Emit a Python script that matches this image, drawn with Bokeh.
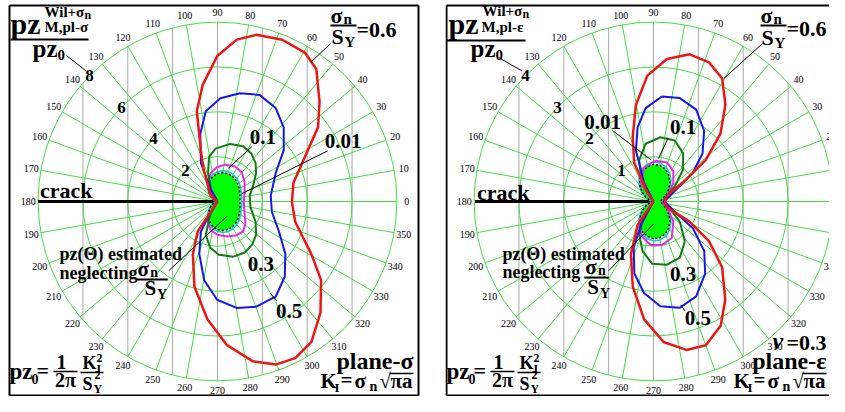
import numpy as np
from bokeh.plotting import figure
from bokeh.layouts import row
from bokeh.models import Range1d
from bokeh.embed import file_html
from bokeh.resources import INLINE
from bokeh.core.properties import value

FONT = "Liberation Serif"

# ---------------- data ----------------
angle_ticks = list(range(0, 360, 10))
radial_ticks_stress = [2, 4, 6, 8]
radial_ticks_strain = [1, 2, 3, 4]
vgrid_stress = [-6, -4, -2, 0, 2, 4, 6]
vgrid_strain = [-3, -2, -1, 0, 1, 2, 3]

base_theta = list(range(-180, 181, 10))

# plane stress (left), r / pz0
stress_base_r = [0, 0.03, 0.12, 0.26, 0.43, 0.62, 0.81, 0.99, 1.14, 1.25, 1.31, 1.33, 1.31, 1.26, 1.19, 1.12, 1.06, 1.02, 1.0,
                 1.02, 1.06, 1.12, 1.19, 1.26, 1.31, 1.33, 1.31, 1.25, 1.14, 0.99, 0.81, 0.62, 0.43, 0.26, 0.12, 0.03, 0]
stress_001_r = [0, 0.04, 0.13, 0.28, 0.46, 0.66, 0.86, 1.05, 1.21, 1.33, 1.40, 1.42, 1.40, 1.34, 1.27, 1.19, 1.13, 1.09, 1.08,
                1.09, 1.13, 1.19, 1.27, 1.34, 1.40, 1.42, 1.40, 1.33, 1.21, 1.05, 0.86, 0.66, 0.46, 0.28, 0.13, 0.04, 0]
stress_01_theta = [180, 125, 116.7, 103.4, 90.5, 78, 63.4, 50.5, 37.2, 18.4, -1.5, -24, -37.9, -49.4, -60.4, -74.9,
                   -90.5, -103.6, -115.1, -125, 180]
stress_01_r = [0, 0.5, 0.94, 1.31, 1.54, 1.68, 1.75, 1.69, 1.51, 1.28, 1.17, 1.32, 1.58, 1.76, 1.73, 1.62,
               1.48, 1.30, 1.0, 0.5, 0]
stress_03_theta = [180, 118, 108.3, 100.7, 92.1, 77.6, 65.1, 54.9, 45.2, 36.4, 25.5, 10.3, -9.6, -27.9, -40.6, -50.9,
                   -61.8, -73.9, -88.6, -99.2, -109.4, -118.8, 180]
stress_03_r = [0, 0.6, 1.34, 2.03, 2.36, 2.63, 2.72, 2.62, 2.41, 2.14, 1.78, 1.46, 1.49, 1.92, 2.27, 2.46,
               2.58, 2.56, 2.38, 2.08, 1.57, 0.70, 0]
stress_05_theta = [180, 118.9, 113.4, 104.3, 97.4, 88.4, 78.3, 68.5, 58.1, 48.2, 37.8, 26.1, 6.3, -10.9, -26, -37.8,
                   -48.2, -58.5, -69.8, -79.8, -90.2, -99.6, -109.1, -118.9, -121.9, 180]
stress_05_r = [0, 0.63, 1.86, 3.11, 4.06, 4.61, 4.93, 5.11, 4.91, 4.43, 3.74, 2.89, 2.39, 2.47, 3.05, 3.83,
               4.50, 4.97, 5.00, 4.82, 4.38, 3.56, 2.48, 1.53, 0.72, 0]
stress_06_theta = [180, 139, 113.6, 108, 102.9, 97.3, 90.1, 83.2, 76.9, 68.2, 59.6, 53.3, 44.4, 36.4, 27.1, 13.9, -0.5,
                   -14.6, -29.3, -37.2, -47.2, -56.2, -63.6, -70.4, -77.5, -86.2, -94.9, -105.2, -115.1, -123.5, -123, 180]
stress_06_r = [0, 0.40, 1.55, 2.41, 4.13, 5.23, 6.49, 7.27, 7.63, 7.77, 7.70, 7.37, 6.37, 5.57, 4.38, 3.49, 3.32,
               3.58, 4.80, 5.80, 6.76, 7.53, 7.80, 7.72, 7.30, 6.42, 5.27, 3.93, 2.59, 1.60, 0.56, 0]

# plane strain (right), nu = 0.3
strain_base_r = [0, 0.02, 0.09, 0.20, 0.33, 0.47, 0.60, 0.72, 0.79, 0.83, 0.82, 0.77, 0.68, 0.57, 0.45, 0.34, 0.24, 0.18, 0.16,
                 0.18, 0.24, 0.34, 0.45, 0.57, 0.68, 0.77, 0.82, 0.83, 0.79, 0.72, 0.60, 0.47, 0.33, 0.20, 0.09, 0.02, 0]
strain_001_r = [0, 0.02, 0.10, 0.21, 0.35, 0.50, 0.64, 0.76, 0.84, 0.88, 0.87, 0.82, 0.72, 0.60, 0.48, 0.36, 0.25, 0.19, 0.17,
                0.19, 0.25, 0.36, 0.48, 0.60, 0.72, 0.82, 0.87, 0.88, 0.84, 0.76, 0.64, 0.50, 0.35, 0.21, 0.10, 0.02, 0]
strain_01_theta = [180, 124, 105.8, 87.3, 71.1, 56.8, 43.5, 26.7, 0, -30.5, -45.6, -63.4, -79, -93.8, -109, -125.4, 180]
strain_01_r = [0, 0.51, 0.78, 0.91, 0.92, 0.81, 0.61, 0.37, 0.20, 0.39, 0.63, 0.91, 0.99, 0.97, 0.82, 0.55, 0]
strain_03_theta = [180, 125, 116.6, 109, 97.7, 83.9, 70.7, 58.4, 47.2, 36, 23.7, 0, -23.3, -37.5, -51.8, -64.8, -78,
                   -91.2, -102.6, -113.4, -124.7, 180]
strain_03_r = [0, 0.30, 0.63, 0.98, 1.30, 1.44, 1.44, 1.26, 0.97, 0.59, 0.33, 0.22, 0.40, 0.74, 1.13, 1.38, 1.44,
               1.39, 1.13, 0.80, 0.37, 0]
strain_05_theta = [180, 116.7, 108.9, 102.1, 94.8, 85.4, 75.7, 65.1, 54.4, 44.4, 36, 28.2, 0, -27.4, -34.1, -44.3,
                   -54.4, -65.8, -76.1, -86.3, -95.9, -104.9, -113.2, -118.4, 180]
strain_05_r = [0, 0.47, 1.21, 1.69, 2.09, 2.35, 2.38, 2.26, 1.94, 1.53, 1.08, 0.58, 0.24, 0.58, 1.06, 1.58,
               1.98, 2.32, 2.44, 2.34, 2.05, 1.66, 1.12, 0.59, 0]
strain_06_theta = [180, 124, 116.6, 107.9, 100.3, 92.8, 84.6, 76.2, 68.2, 60.8, 53.4, 45.3, 38.5, 34, 23.7, 0, -22.6,
                   -29.2, -35.5, -43.8, -53.8, -61.6, -70, -77.5, -85.9, -94.6, -103.7, -113.1, -124.2, -122.8, 180]
strain_06_r = [0, 0.24, 0.96, 1.51, 2.19, 2.81, 3.19, 3.38, 3.34, 3.14, 2.69, 2.12, 1.49, 0.88, 0.33, 0.25, 0.32,
               0.92, 1.52, 2.12, 2.71, 3.15, 3.41, 3.39, 3.14, 2.63, 1.95, 1.28, 0.63, 0.19, 0]

# ---------------- styling / geometry ----------------
GRID_GREEN = "#44dd44"
GRID_GRAY = "#a8a8a8"
COL = {"0.1": "#ee22ee", "0.3": "#117a11", "0.5": "#1515ee", "0.6": "#ee1515", "0.01": "#10c8d0"}
FIG_H = 396
K = 0.975      # overall shrink so that the page fits the window
CY = 201       # pole height on the canvas


def pol(theta_deg, r):
    t = np.radians(np.asarray(theta_deg, dtype=float))
    r = np.asarray(r, dtype=float)
    return r * np.cos(t), r * np.sin(t)


def make_fig(cx, s, left_px, width):
    ppu = s * K
    p = figure(width=width, height=FIG_H, output_backend="svg", toolbar_location=None,
               x_axis_location=None, y_axis_location=None, min_border=0,
               x_range=Range1d((left_px - cx) / ppu, (left_px + width - cx) / ppu),
               y_range=Range1d((CY - FIG_H) / ppu, CY / ppu))
    p.grid.visible = False
    p.outline_line_color = None
    p.background_fill_color = "white"
    p.border_fill_color = "white"

    def ref(xp, yp):      # position read on the reference, scaled with the polar plot
        return (xp - cx) / s, (206 - yp) / s

    def pic(xp, yp):      # position on the canvas itself
        return (xp - cx) / ppu, (CY - yp) / ppu
    return p, ref, pic


def txt(p, conv, xp, yp, t, size, style="bold", align="left"):
    # yp is the baseline; glyphs are centred, so shift by ~0.34 em
    x, y = conv(xp, yp - 0.34 * size)
    p.text(x=[x], y=[y], text=[t], text_font=value(FONT), text_font_size=f"{size}px",
           text_font_style=style, text_align=align, text_baseline="middle", text_color="black")


def seg(p, a, b, w=1.0, color="black"):
    p.line([a[0], b[0]], [a[1], b[1]], line_width=w, line_color=color)


def draw_grid(p, R, vgrid, rticks, label_r):
    for xv in vgrid:
        h = np.sqrt(max(R * R - xv * xv, 0))
        p.segment(x0=[xv], y0=[-h], x1=[xv], y1=[h], line_color=GRID_GRAY, line_width=1)
    ang = [a for a in angle_ticks if a not in (90, 270, 180)]
    ex, ey = pol(ang, [R] * len(ang))
    p.segment(x0=[0] * len(ang), y0=[0] * len(ang), x1=ex, y1=ey, line_color=GRID_GREEN, line_width=1)
    for rr in rticks:
        p.circle(x=[0], y=[0], radius=rr, fill_color=None, line_color=GRID_GREEN, line_width=1)
    lx, ly = pol(angle_ticks, [label_r] * len(angle_ticks))
    p.text(x=lx, y=ly, text=[str(a) for a in angle_ticks], text_font=value(FONT), text_font_size="10px",
           text_align="center", text_baseline="middle", text_color="black")
    tx, ty = pol([135.5] * len(rticks), rticks)
    p.text(x=tx, y=ty, text=[str(v) for v in rticks], text_font=value(FONT), text_font_size="17px",
           text_font_style="bold", text_align="center", text_baseline="middle", text_color="black")


def draw_curves(p, base_r, c001_r, curves):
    bx, by = pol(base_theta, base_r)
    p.patch(bx, by, fill_color="#00ff00", line_color=None)
    cx_, cy_ = pol(base_theta, c001_r)
    p.line(cx_, cy_, line_color=COL["0.01"], line_width=1.6)
    p.line(bx, by, line_color="black", line_width=1.5, line_dash="2 2")
    for key, th, rr, w in curves:
        x, y = pol(th, rr)
        p.line(x, y, line_color=COL[key], line_width=w, line_join="round")


B = -11   # vertical shift of the lower-left formula block
B2 = -15  # vertical shift of the K_I line
B3 = -13  # vertical shift of plane-... / nu labels

# ---------------- left panel: plane stress ----------------
p1, r1, q1 = make_fig(217, 23.0, 0, 445)
draw_grid(p1, 8, vgrid_stress, radial_ticks_stress, 194 / 23.0)
seg(p1, r1(33, 206), r1(217, 206), 3)
draw_curves(p1, stress_base_r, stress_001_r,
            [("0.1", stress_01_theta, stress_01_r, 2), ("0.3", stress_03_theta, stress_03_r, 2),
             ("0.5", stress_05_theta, stress_05_r, 2), ("0.6", stress_06_theta, stress_06_r, 2.5)])
for a, b in [((9, 5), (418, 5)), ((418, 5), (418, 395)), ((418, 395), (9, 395)), ((9, 395), (9, 5))]:
    seg(p1, q1(*a), q1(*b), 2)

for xp, yp, t, sz in [
    (10, 33, "pz", 30), (44, 17, "Wil+σ", 15), (84, 19, "n", 12), (44, 32, "M,pl-σ", 15),
    (32, 56, "pz", 25), (57, 60, "0", 15),
    (330, 22, "σ", 22), (343, 24, "n", 15), (331, 43, "S", 22), (344, 47, "Y", 15), (356, 36, "=0.6", 22),
    (9, 390 + B, "pz", 23), (31, 394 + B, "0", 14), (36, 388 + B, "=", 22),
    (82, 380 + B, "K", 18), (96, 384 + B, "I", 12), (96, 373 + B, "2", 12),
    (82, 401 + B, "S", 18), (93, 404 + B, "Y", 12), (94, 390 + B, "2", 12),
    (320, 403 + B2, "K", 21), (334, 406 + B2, "I", 13), (340, 402 + B2, "=", 21), (354, 403 + B2, "σ", 21),
    (369, 406 + B2, "n", 14), (379, 403 + B2, "√", 21), (390, 403 + B2, "πa", 21),
]:
    txt(p1, q1, xp, yp, t, sz)
txt(p1, q1, 61, 379 + B, "1", 20, align="center")
txt(p1, q1, 65, 397 + B, "2π", 20, align="center")
txt(p1, q1, 413, 382 + B3, "plane-σ", 24, align="right")
for xp, yp, t, sz in [
    (250, 147, "0.1", 21), (327, 151, "0.01", 21), (35, 202, "crack", 22),
    (55, 266, "pz(Θ) estimated", 18), (55, 285, "neglecting", 18),
    (135, 282, "σ", 21), (148, 284, "n", 14), (142, 302, "S", 21), (155, 306, "Y", 14),
    (248, 277, "0.3", 21), (277, 325, "0.5", 21),
]:
    txt(p1, r1, xp, yp, t, sz)
for a, b, w in [(q1(10, 39), q1(88, 39), 2), (q1(330, 25), q1(356, 25), 2), (r1(134, 286), r1(166, 286), 2),
                (q1(53, 382 + B), q1(77, 382 + B), 1.5), (q1(80, 383 + B), q1(103, 383 + B), 1.5),
                (q1(389, 388 + B2), q1(413, 388 + B2), 1.5),
                (q1(66, 55), r1(82, 72), 1), (q1(330, 43), r1(313, 63), 1), (r1(252, 150), r1(228, 172), 1),
                (r1(330, 154), r1(242, 198), 1), (r1(167, 277), r1(227, 221), 1), (r1(278, 308), r1(271, 300), 1)]:
    seg(p1, a, b, w)

# ---------------- right panel: plane strain ----------------
p2, r2, q2 = make_fig(653, 46.0, 445, 384)
draw_grid(p2, 4, vgrid_strain, radial_ticks_strain, 194 / 46.0)
seg(p2, r2(470, 206), r2(653, 206), 3)
draw_curves(p2, strain_base_r, strain_001_r,
            [("0.1", strain_01_theta, strain_01_r, 2), ("0.3", strain_03_theta, strain_03_r, 2),
             ("0.5", strain_05_theta, strain_05_r, 2), ("0.6", strain_06_theta, strain_06_r, 2.5)])
for a, b in [((446, 5), (860, 5)), ((446, 395), (860, 395)), ((446, 5), (446, 395))]:
    seg(p2, q2(*a), q2(*b), 2)

dx = 437
dk = 413
for xp, yp, t, sz in [
    (448, 33, "pz", 30), (482, 16, "Wil+σ", 15), (522, 18, "n", 12), (481, 32, "M,pl-ε", 15),
    (470, 56, "pz", 25), (495, 60, "0", 15),
    (760, 22, "σ", 22), (773, 24, "n", 15), (761, 44, "S", 22), (774, 48, "Y", 15), (786, 35, "=0.6", 22),
    (9 + dx, 390 + B, "pz", 23), (31 + dx, 394 + B, "0", 14), (36 + dx, 388 + B, "=", 22),
    (82 + dx, 380 + B, "K", 18), (96 + dx, 384 + B, "I", 12), (96 + dx, 373 + B, "2", 12),
    (82 + dx, 401 + B, "S", 18), (93 + dx, 404 + B, "Y", 12), (94 + dx, 390 + B, "2", 12),
    (320 + dk, 403 + B2, "K", 21), (334 + dk, 406 + B2, "I", 13), (340 + dk, 402 + B2, "=", 21),
    (354 + dk, 403 + B2, "σ", 21), (369 + dk, 406 + B2, "n", 14), (379 + dk, 403 + B2, "√", 21),
    (390 + dk, 403 + B2, "πa", 21),
]:
    txt(p2, q2, xp, yp, t, sz)
txt(p2, q2, 826, 362 + B3, "=0.3", 22, align="right")
txt(p2, q2, 772, 362 + B3, "ν", 24, style="bold italic")
txt(p2, q2, 826, 382 + B3, "plane-ε", 24, align="right")
txt(p2, q2, 61 + dx, 379 + B, "1", 20, align="center")
txt(p2, q2, 65 + dx, 397 + B, "2π", 20, align="center")
for xp, yp, t, sz in [
    (582, 132, "0.01", 21), (670, 137, "0.1", 21), (472, 204, "crack", 22),
    (498, 266, "pz(Θ) estimated", 18), (498, 284, "neglecting", 18),
    (583, 280, "σ", 21), (596, 282, "n", 14), (585, 301, "S", 21), (598, 305, "Y", 14),
    (670, 288, "0.3", 21), (685, 333, "0.5", 21),
]:
    txt(p2, r2, xp, yp, t, sz)
for a, b, w in [(q2(446, 40), q2(525, 40), 2), (q2(760, 25), q2(786, 25), 2), (r2(582, 284), r2(607, 284), 2),
                (q2(53 + dx, 382 + B), q2(77 + dx, 382 + B), 1.5), (q2(80 + dx, 383 + B), q2(103 + dx, 383 + B), 1.5),
                (q2(389 + dk, 388 + B2), q2(413 + dk, 388 + B2), 1.5),
                (q2(498, 57), r2(518, 72), 1), (q2(762, 43), r2(725, 80), 1), (r2(612, 134), r2(650, 163), 1),
                (r2(668, 141), r2(658, 162), 1), (r2(607, 277), r2(653, 229), 1), (r2(685, 318), r2(681, 312), 1)]:
    seg(p2, a, b, w)

layout = row(p1, p2)
open("out.html", "w").write(file_html(layout, INLINE))
